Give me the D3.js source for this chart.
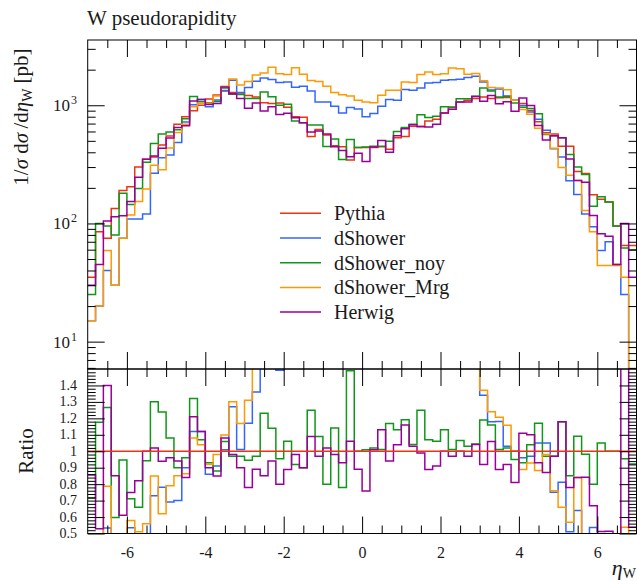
<!DOCTYPE html>
<html>
<head>
<meta charset="utf-8">
<title>W pseudorapidity</title>
<script src="https://cdn.jsdelivr.net/npm/d3@7/dist/d3.min.js"></script>
<style>
    body { margin: 0; background: #ffffff; }
    svg text { font-family: "Liberation Serif", "DejaVu Serif", serif; fill: #1a1a1a; }
</style>
</head>
<body>
<script>
// bin edges of the eta_W histogram
var etaEdges = [-7, -6.8, -6.6, -6.4, -6.2, -6, -5.8, -5.6, -5.4, -5.2,
    -5, -4.8, -4.6, -4.4, -4.2, -4, -3.8, -3.6, -3.4, -3.2,
    -3, -2.8, -2.6, -2.4, -2.2, -2, -1.8, -1.6, -1.4, -1.2,
    -1, -0.8, -0.6, -0.4, -0.2, 0, 0.2, 0.4, 0.6, 0.8,
    1, 1.2, 1.4, 1.6, 1.8, 2, 2.2, 2.4, 2.6, 2.8,
    3, 3.2, 3.4, 3.6, 3.8, 4, 4.2, 4.4, 4.6, 4.8,
    5, 5.2, 5.4, 5.6, 5.8, 6, 6.2, 6.4, 6.6, 6.8, 7];

// 1/sigma dsigma/deta_W [pb], one value per bin
var pythia = [35, 85, 75, 134, 190, 204, 300, 350, 365, 460,
    550, 690, 800, 900, 1000, 1130, 1220, 1320, 1280, 1270,
    1210, 1175, 1050, 1035, 1045, 960, 800, 790, 545, 625,
    560, 455, 445, 345, 440, 440, 440, 445, 425, 530,
    545, 665, 665, 735, 760, 860, 955, 1065, 1100, 1140,
    1175, 1140, 1160, 1165, 1100, 1035, 905, 725, 585, 570,
    450, 450, 275, 265, 175, 160, 152, 95, 65, 65];

var dShower = [15, 20, 40, 30, 75, 109, 109, 120, 266, 359,
    380, 483, 720, 1008, 1120, 972, 1110, 1333, 1626, 1283,
    1416, 1598, 1700, 1650, 1560, 1570, 1420, 1450, 1320, 1067,
    1067, 981, 861, 956, 930, 800, 850, 981, 1117, 1100,
    1358, 1340, 1400, 1545, 1560, 1626, 1640, 1660, 1714, 1758,
    1575, 1345, 1370, 1200, 1100, 994, 878, 761, 614, 428,
    365, 230, 176, 120, 94, 59, 70, 45, 25, 4];

var dShowerNoy = [25, 100, 95, 80, 180, 145, 198, 330, 475, 570,
    594, 621, 768, 1188, 1070, 1051, 1074, 1399, 1242, 1232,
    1143, 1140, 1292, 1180, 998, 1018, 736, 711, 681, 681,
    448, 519, 347, 514, 440, 444, 449, 450, 497, 599,
    649, 692, 831, 786, 806, 972, 965, 1134, 1133, 1191,
    1398, 1322, 1172, 1188, 1045, 963, 941, 848, 567, 553,
    531, 383, 300, 260, 140, 168, 152, 95, 62, 60];

var dShowerMrg = [15, 20, 59, 30, 75, 118, 153, 196, 310, 285,
    435, 587, 690, 972, 1040, 1040, 1195, 1450, 1665, 1485,
    1585, 1800, 1870, 2100, 1850, 1820, 2080, 1830, 1620, 1590,
    1450, 1280, 1230, 1200, 1100, 1067, 1050, 1215, 1339, 1339,
    1575, 1560, 1818, 1912, 1818, 1850, 2066, 2040, 1830, 1860,
    1610, 1414, 1400, 1350, 1100, 920, 840, 640, 573, 433,
    297, 256, 231, 129, 85, 44, 44, 44, 35, 3];

var herwig = [30, 45, 105, 114, 116, 153, 246, 350, 372, 432,
    528, 649, 672, 1089, 1120, 1017, 1037, 1426, 1254, 1143,
    944, 1046, 893, 973, 836, 854, 784, 711, 594, 606,
    571, 446, 414, 366, 392, 334, 444, 503, 400, 551,
    632, 685, 658, 654, 692, 860, 926, 1065, 1067, 1186,
    1081, 1208, 1032, 1072, 891, 1149, 996, 674, 509, 553,
    531, 351, 231, 223, 117, 82, 78, 45, 100, 35];

var seriesNames = ["Pythia", "dShower", "dShower_noy", "dShower_Mrg", "Herwig"];
var seriesColours = ["#ee3311", "#3366ff", "#109618", "#ff9900", "#990099"];

// tick positions and labels
var xMajorTicks = [-6, -4, -2, 0, 2, 4, 6];
var xMinorTicks = [-6.5, -5.5, -5, -4.5, -3.5, -3, -2.5, -1.5, -1, -0.5,
    0.5, 1, 1.5, 2.5, 3, 3.5, 4.5, 5, 5.5, 6.5];
var yMajorTicks = [10, 100, 1000];
var yMajorExponents = ["1", "2", "3"];
var yMinorTicks = [6, 7, 8, 9, 20, 30, 40, 50, 60, 70, 80, 90,
    200, 300, 400, 500, 600, 700, 800, 900, 2000, 3000];
var ratioTicks = [1.4, 1.3, 1.2, 1.1, 1, 0.9, 0.8, 0.7, 0.6, 0.5];
var ratioTickLabels = ["1.4", "1.3", "1.2", "1.1", "1", "0.9", "0.8", "0.7", "0.6", "0.5"];

(function() {

    var width = 637;
    var height = 584;
    var frame = { left: 87.7, right: 636.5, top: 40, mid: 369, bottom: 533.5 };
    var majorLen = 17;
    var minorLen = 8;

    var allSeries = [pythia, dShower, dShowerNoy, dShowerMrg, herwig];

    var svg = d3.select("body").append("svg")
        .attr("width", width)
        .attr("height", height);

    var x = d3.scaleLinear().domain([-7, 7]).range([frame.left, frame.right]);
    var y = d3.scaleLog().domain([5.87, 3565]).range([frame.mid, frame.top]);
    var yRatio = d3.scaleLinear().domain([0.5, 1.5]).range([frame.bottom, frame.mid]);

    var defs = svg.append("defs");
    defs.append("clipPath").attr("id", "clip-main")
        .append("rect")
        .attr("x", frame.left).attr("y", frame.top)
        .attr("width", frame.right - frame.left).attr("height", frame.mid - frame.top);
    defs.append("clipPath").attr("id", "clip-ratio")
        .append("rect")
        .attr("x", frame.left).attr("y", frame.mid)
        .attr("width", frame.right - frame.left).attr("height", frame.bottom - frame.mid);

    //turn one histogram into the corner points of a step line
    var stepPoints = function(values, yFunc) {
        var pts = [];
        values.forEach(function(v, i) {
            var yy = yFunc(v, i);
            pts.push([x(etaEdges[i]), yy]);
            pts.push([x(etaEdges[i + 1]), yy]);
        });
        return pts;
    };
    var line = d3.line();

    // main panel histograms
    var mainG = svg.append("g").attr("clip-path", "url(#clip-main)");
    allSeries.forEach(function(values, s) {
        mainG.append("path")
            .attr("d", line(stepPoints(values, function(v) { return y(v); })))
            .attr("fill", "none")
            .attr("stroke", seriesColours[s])
            .attr("stroke-width", 1.5);
    });

    // ratio panel, everything divided by Pythia
    var ratioG = svg.append("g").attr("clip-path", "url(#clip-ratio)");
    [1, 2, 3, 4, 0].forEach(function(s) {
        ratioG.append("path")
            .attr("d", line(stepPoints(allSeries[s], function(v, i) { return yRatio(v / pythia[i]); })))
            .attr("fill", "none")
            .attr("stroke", seriesColours[s])
            .attr("stroke-width", 1.5);
    });

    //draw an axis of inward ticks and strip the bits we do not want
    var addTicks = function(axis, tx, ty) {
        var g = svg.append("g")
            .attr("transform", "translate(" + tx + "," + ty + ")")
            .call(axis);
        g.select(".domain").remove();
        g.attr("font-family", null).attr("font-size", null);
        g.selectAll(".tick line").attr("stroke", "#000").attr("stroke-width", 1);
        return g;
    };

    // x ticks on the four horizontal edges
    [[d3.axisTop, frame.top], [d3.axisBottom, frame.mid], [d3.axisTop, frame.mid]].forEach(function(a) {
        addTicks(a[0](x).tickValues(xMajorTicks).tickSize(-majorLen).tickFormat(""), 0, a[1]);
        addTicks(a[0](x).tickValues(xMinorTicks).tickSize(-minorLen).tickFormat(""), 0, a[1]);
    });
    var xLab = addTicks(d3.axisBottom(x).tickValues(xMajorTicks).tickSize(-majorLen).tickPadding(13)
        .tickFormat(function(d) { return d < 0 ? "-" + Math.abs(d) : String(d); }), 0, frame.bottom);
    xLab.selectAll("text").style("font-size", "16px");
    addTicks(d3.axisBottom(x).tickValues(xMinorTicks).tickSize(-minorLen).tickFormat(""), 0, frame.bottom);

    // log y ticks, both sides
    [[d3.axisLeft, frame.left], [d3.axisRight, frame.right]].forEach(function(a) {
        addTicks(a[0](y).tickValues(yMajorTicks).tickSize(-majorLen).tickFormat(""), a[1], 0);
        addTicks(a[0](y).tickValues(yMinorTicks).tickSize(-minorLen).tickFormat(""), a[1], 0);
    });
    yMajorTicks.forEach(function(v, i) {
        var t = svg.append("text")
            .attr("x", 77)
            .attr("y", y(v) + 6)
            .attr("text-anchor", "end")
            .style("font-size", "17px");
        t.append("tspan").text("10");
        t.append("tspan").attr("dx", 1).attr("dy", -7).style("font-size", "12px").text(yMajorExponents[i]);
    });

    // ratio y ticks
    var ratioMinor = d3.range(50, 151, 2).filter(function(d) { return d % 10 !== 0; })
        .map(function(d) { return d / 100; });
    [[d3.axisLeft, frame.left], [d3.axisRight, frame.right]].forEach(function(a) {
        addTicks(a[0](yRatio).tickValues(ratioTicks).tickSize(-majorLen).tickFormat(""), a[1], 0);
        addTicks(a[0](yRatio).tickValues(ratioMinor).tickSize(-minorLen).tickFormat(""), a[1], 0);
    });
    ratioTicks.forEach(function(v, i) {
        svg.append("text")
            .attr("x", 77)
            .attr("y", yRatio(v) + 4.5)
            .attr("text-anchor", "end")
            .style("font-size", "14px")
            .text(ratioTickLabels[i]);
    });

    // frames
    [[frame.top, frame.mid], [frame.mid, frame.bottom]].forEach(function(r) {
        svg.append("rect")
            .attr("x", frame.left).attr("y", r[0])
            .attr("width", frame.right - frame.left).attr("height", r[1] - r[0])
            .attr("fill", "none").attr("stroke", "#000").attr("stroke-width", 1);
    });

    // legend
    var legend = svg.append("g").attr("transform", "translate(280,213.3)");
    seriesNames.forEach(function(name, s) {
        var row = legend.append("g").attr("transform", "translate(0," + (s * 24.7) + ")");
        row.append("line")
            .attr("x1", 0).attr("x2", 41)
            .attr("stroke", seriesColours[s]).attr("stroke-width", 1.5);
        row.append("text")
            .attr("x", 54).attr("y", 7)
            .style("font-size", "20px")
            .text(name);
    });

    // title and axis labels
    svg.append("text")
        .attr("x", 87).attr("y", 25)
        .style("font-size", "21px")
        .text("W pseudorapidity");

    var yLabel = svg.append("text")
        .attr("transform", "translate(28,117) rotate(-90)")
        .attr("text-anchor", "middle")
        .style("font-size", "21px");
    yLabel.append("tspan").text("1/");
    yLabel.append("tspan").style("font-style", "italic").text("σ");
    yLabel.append("tspan").text(" d");
    yLabel.append("tspan").style("font-style", "italic").text("σ");
    yLabel.append("tspan").text("\u2009/d");
    yLabel.append("tspan").style("font-style", "italic").text("η");
    yLabel.append("tspan").attr("dy", 4).style("font-size", "14px").text("W");
    yLabel.append("tspan").attr("dy", -4).text(" [pb]");

    svg.append("text")
        .attr("transform", "translate(33,451) rotate(-90)")
        .attr("text-anchor", "middle")
        .style("font-size", "21px")
        .text("Ratio");

    var xLabel = svg.append("text")
        .attr("x", 636).attr("y", 575)
        .attr("text-anchor", "end")
        .style("font-size", "22px");
    xLabel.append("tspan").style("font-style", "italic").text("η");
    xLabel.append("tspan").attr("dy", 3).style("font-size", "14px").text("W");

}());
</script>
</body>
</html>
